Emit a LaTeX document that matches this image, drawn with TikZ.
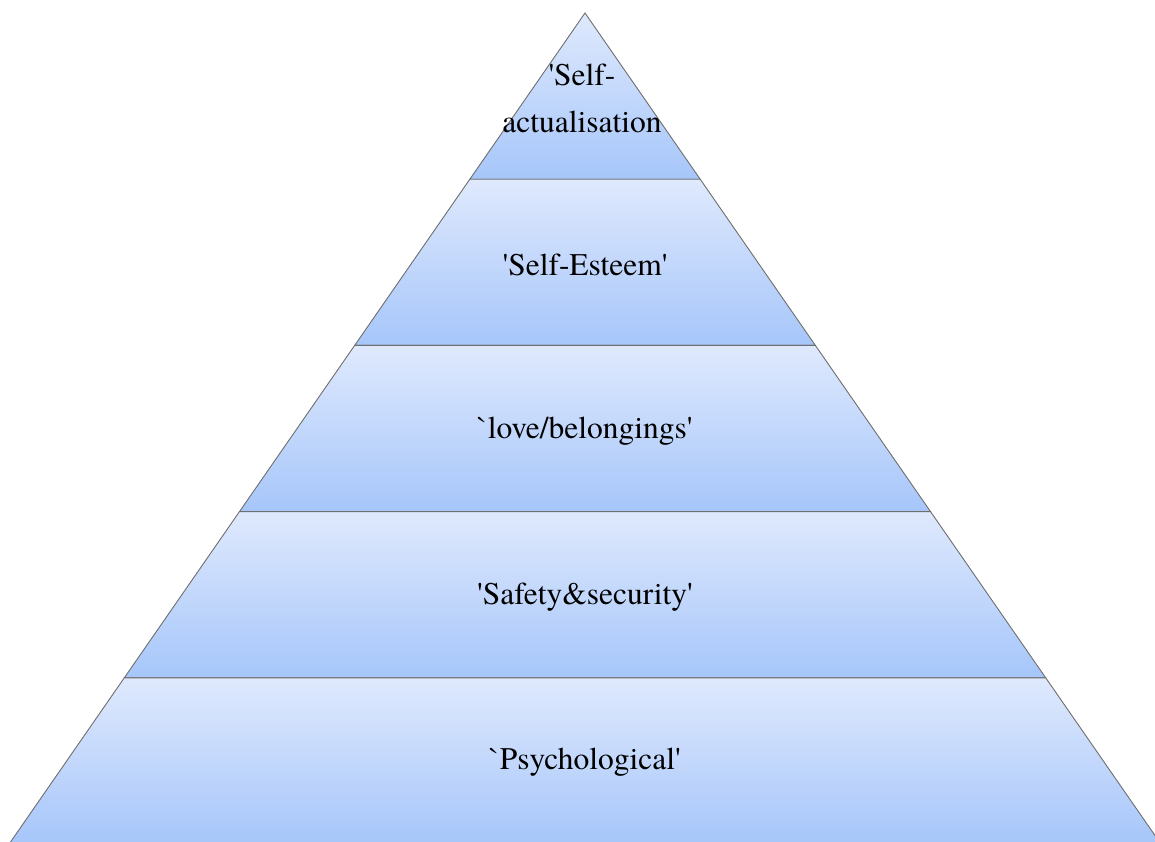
\documentclass[tikz,border=0pt]{standalone}
\usepackage{fontspec}
\setmainfont{texgyretermes}[Extension=.otf,UprightFont=*-regular,Ligatures=TeXOff]
\definecolor{layertop}{RGB}{223,233,253}
\definecolor{layerbot}{RGB}{166,198,250}
\definecolor{edgegray}{RGB}{110,110,110}
\begin{document}
\begin{tikzpicture}[x=1pt,y=-1pt,
  layer/.style={top color=layertop,bottom color=layerbot,draw=edgegray,line width=0.9pt,line join=miter},
  lbl/.style={font=\fontsize{31.5}{47}\selectfont,align=center,inner sep=0pt}]
\useasboundingbox (0,0) rectangle (1155,841);
% apex at (585,13); sides fall 0.693 px sideways per px down; five bands of equal height
\def\ax{585}\def\ay{13}\def\sl{0.693}\def\hb{166.2}
\foreach \k in {0,...,4}{
  \pgfmathsetmacro{\ya}{\ay+\k*\hb}
  \pgfmathsetmacro{\yb}{\ay+(\k+1)*\hb}
  \pgfmathsetmacro{\wa}{\sl*(\ya-\ay)}
  \pgfmathsetmacro{\wb}{\sl*(\yb-\ay)}
  \path[layer] (\ax-\wa,\ya) -- (\ax+\wa,\ya) -- (\ax+\wb,\yb) -- (\ax-\wb,\yb) -- cycle;
}
\node[lbl] (selfact) at (582,98) {'Self-\\actualisation};
\node[lbl] (esteem) at (585,265) {'Self-Esteem'};
\node[lbl] (love) at (585,431) {`love/belongings'};
\node[lbl] (safety) at (585,597) {'Safety\&security'};
\node[lbl] (physio) at (585,762) {`Psychological'};
\end{tikzpicture}
\end{document}
